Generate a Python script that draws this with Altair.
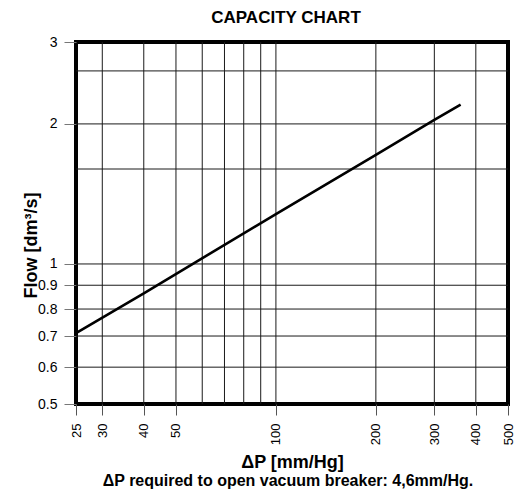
import altair as alt
import pandas as pd

# Data
dp = [25, 40, 100, 200, 300, 360]
flow = [0.71, 0.865, 1.28, 1.715, 2.04, 2.2]

x_ticks = [25, 30, 40, 50, 100, 200, 300, 400, 500]
x_grid = [30, 40, 50, 60, 70, 80, 90, 100, 200, 300, 400]
y_ticks = [0.5, 0.6, 0.7, 0.8, 0.9, 1, 2, 3]
y_grid = [0.6, 0.7, 0.8, 0.9, 1, 1.6, 2, 2.6]

title_text = "CAPACITY CHART"
x_title = "ΔP [mm/Hg]"
y_title = "Flow [dm³/s]"
note = "ΔP required to open vacuum breaker: 4,6mm/Hg."

FONT = "Liberation Sans"

xs = alt.Scale(type="log", domain=[25, 500], nice=False)
ys = alt.Scale(type="log", domain=[0.5, 3], nice=False)

x_axis = alt.Axis(
    values=x_ticks, labelAngle=270, labelFontSize=13, labelFont=FONT,
    labelColor="black", labelOverlap=False, labelFlush=False,
    tickSize=11, tickColor="#555", labelPadding=8, domain=False, grid=False,
    title=x_title, titleFontSize=18, titleFont=FONT, titleFontWeight="bold",
    titleColor="black", titleX=216, titleY=63, titleBaseline="alphabetic",
    titleAlign="center",
)
y_axis = alt.Axis(
    values=y_ticks, format="~g", labelFontSize=14, labelFont=FONT,
    labelColor="black", labelOverlap=False, labelFlush=False,
    tickSize=12, tickColor="#777", labelPadding=7, domain=False, grid=False,
    title=y_title, titleFontSize=18, titleFont=FONT, titleFontWeight="bold",
    titleColor="black", titleX=-40, titleY=203, titleAngle=270,
    titleBaseline="alphabetic", titleAlign="center",
)

vgrid = alt.Chart(pd.DataFrame({"dp": x_grid})).mark_rule(
    color="#1a1a1a", strokeWidth=1
).encode(x=alt.X("dp:Q", scale=xs, axis=x_axis))

hgrid = alt.Chart(pd.DataFrame({"flow": y_grid})).mark_rule(
    color="#1a1a1a", strokeWidth=1
).encode(y=alt.Y("flow:Q", scale=ys, axis=y_axis))

line = alt.Chart(pd.DataFrame({"dp": dp, "flow": flow})).mark_line(
    color="black", strokeWidth=2.6
).encode(
    x=alt.X("dp:Q", scale=xs, axis=x_axis),
    y=alt.Y("flow:Q", scale=ys, axis=y_axis),
)

texts = pd.DataFrame({"t": [title_text, note], "kind": ["title", "note"]})

title_layer = alt.Chart(texts).transform_filter(
    alt.datum.kind == "title"
).mark_text(
    font=FONT, fontSize=17, fontWeight="bold", color="black",
    align="center", baseline="alphabetic",
).encode(text="t:N", x=alt.value(210), y=alt.value(-19))

note_layer = alt.Chart(texts).transform_filter(
    alt.datum.kind == "note"
).mark_text(
    font=FONT, fontSize=16, fontWeight="bold", color="black",
    align="center", baseline="alphabetic",
).encode(text="t:N", x=alt.value(212), y=alt.value(444))

chart = alt.layer(vgrid, hgrid, line, title_layer, note_layer).properties(
    width=432,
    height=362,
    autosize=alt.AutoSizeParams(type="none"),
    padding={"left": 68, "top": 34, "right": 8, "bottom": 85},
).configure_view(stroke="black", strokeWidth=4)

chart.save("out.html", embed_options={"renderer": "svg", "actions": False})
